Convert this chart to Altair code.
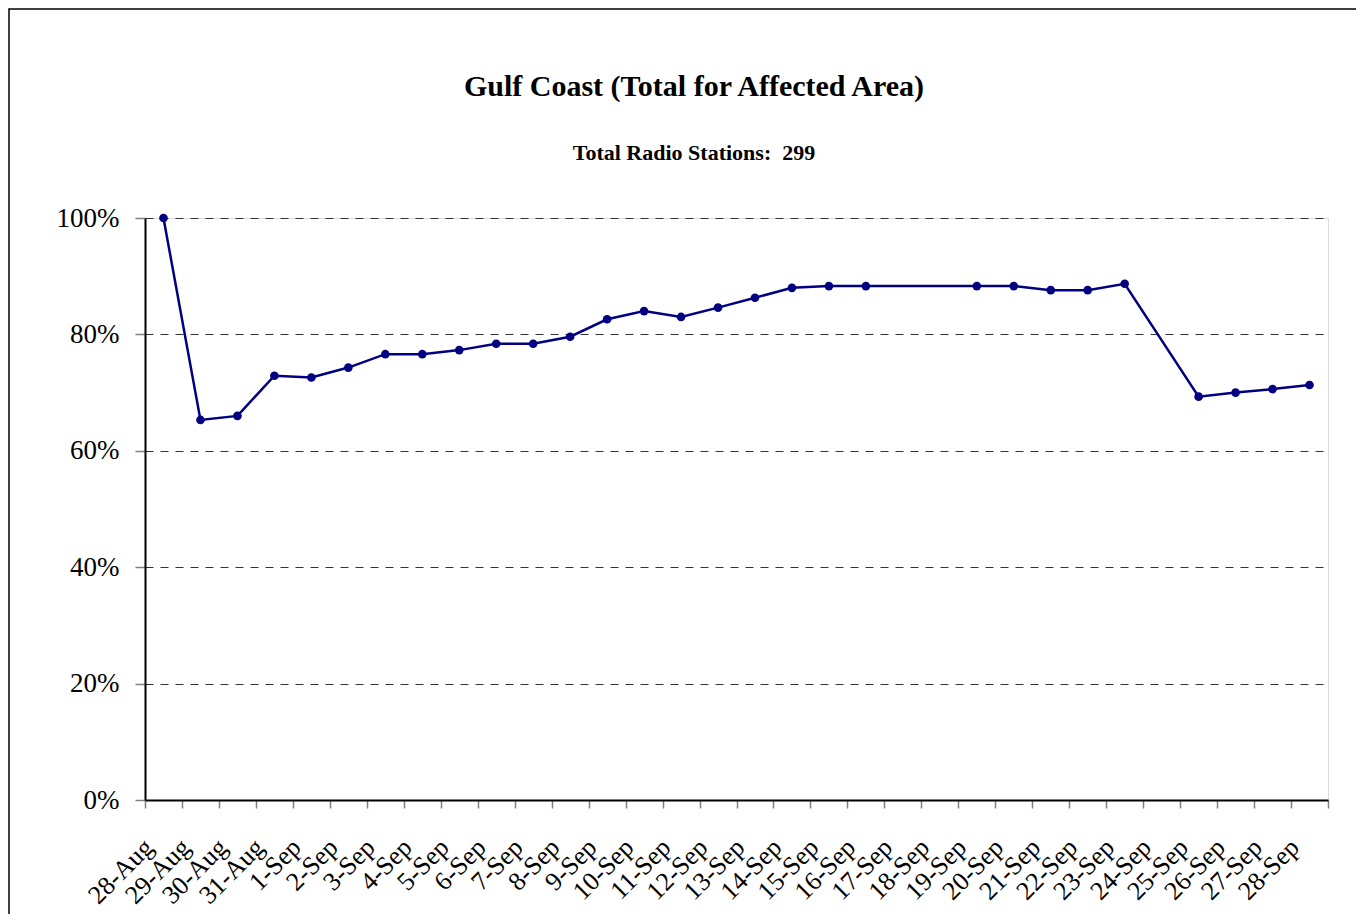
import altair as alt
import pandas as pd

dates = ["28-Aug", "29-Aug", "30-Aug", "31-Aug", "1-Sep", "2-Sep", "3-Sep", "4-Sep",
         "5-Sep", "6-Sep", "7-Sep", "8-Sep", "9-Sep", "10-Sep", "11-Sep", "12-Sep",
         "13-Sep", "14-Sep", "15-Sep", "16-Sep", "17-Sep", "18-Sep", "19-Sep", "20-Sep",
         "21-Sep", "22-Sep", "23-Sep", "24-Sep", "25-Sep", "26-Sep", "27-Sep", "28-Sep"]
pct_on_air = [100.0, 65.3, 66.0, 72.9, 72.6, 74.3, 76.6, 76.6,
              77.3, 78.4, 78.4, 79.6, 82.6, 84.0, 83.0, 84.6,
              86.3, 88.0, 88.3, 88.3, None, None, 88.3, 88.3,
              87.6, 87.6, 88.7, None, 69.3, 70.0, 70.6, 71.3]
y_ticks = [0, 20, 40, 60, 80, 100]

title_text = "Gulf Coast (Total for Affected Area)"
subtitle_text = "Total Radio Stations:\u00a0 299"

df = pd.DataFrame({"date": dates, "pct": pct_on_air, "idx": list(range(len(dates)))})
df = df.dropna()

FONT = "Liberation Serif"
NAVY = "#000080"

x_enc = alt.X(
    "date:O",
    sort=dates,
    scale=alt.Scale(domain=dates, paddingInner=0, paddingOuter=0),
    axis=alt.Axis(
        title=None,
        tickBand="extent",
        labelAngle=-45,
        labelAlign="right",
        labelBaseline="middle",
        labelFont=FONT,
        labelFontSize=26,
        labelColor="black",
        labelPadding=35,
        labelOffset=-15,
        labelOverlap=False,
        tickSize=8,
        tickColor="#808080",
        tickWidth=1.5,
        domainColor="black",
        domainWidth=2,
        grid=False,
    ),
)
y_enc = alt.Y(
    "pct:Q",
    scale=alt.Scale(domain=[0, 100], nice=False),
    axis=alt.Axis(
        title=None,
        values=y_ticks,
        labelExpr="datum.value + '%'",
        labelFont=FONT,
        labelFontSize=27,
        labelColor="black",
        labelPadding=16,
        tickSize=10,
        tickColor="#808080",
        tickWidth=1.5,
        domainColor="black",
        domainWidth=2,
        grid=True,
        gridColor="#333333",
        gridDash=[8, 7],
        gridWidth=1,
    ),
)

line = alt.Chart(df).mark_line(color=NAVY, strokeWidth=2.5).encode(
    x=x_enc, y=y_enc, order=alt.Order("idx:Q")
)
points = alt.Chart(df).mark_circle(color=NAVY, size=75, opacity=1).encode(
    x=alt.X("date:O", sort=dates), y="pct:Q"
)
one = pd.DataFrame({"k": [0]})
frame = alt.Chart(one).mark_rect(
    fill=None, stroke="black", strokeWidth=1.5, clip=False
).encode(
    x=alt.value(-136), y=alt.value(-209), x2=alt.value(1400), y2=alt.value(900)
)
title = alt.Chart(one).mark_text(
    text=title_text, font=FONT, fontSize=30, fontWeight="bold", color="black",
    align="center", baseline="middle"
).encode(x=alt.value(549), y=alt.value(-131))
subtitle = alt.Chart(one).mark_text(
    text=subtitle_text, font=FONT, fontSize=22, fontWeight="bold", color="black",
    align="center", baseline="middle"
).encode(x=alt.value(549), y=alt.value(-65))

chart = alt.layer(frame, line, points, title, subtitle).properties(
    width=1183,
    height=582,
    padding={"left": 137, "top": 210, "right": 28, "bottom": 114},
    autosize=alt.AutoSizeParams(type="none"),
).configure_view(
    stroke="#808080", strokeWidth=2
).configure(background="white")

chart.save("out.html", embed_options={"renderer": "svg", "actions": False})
